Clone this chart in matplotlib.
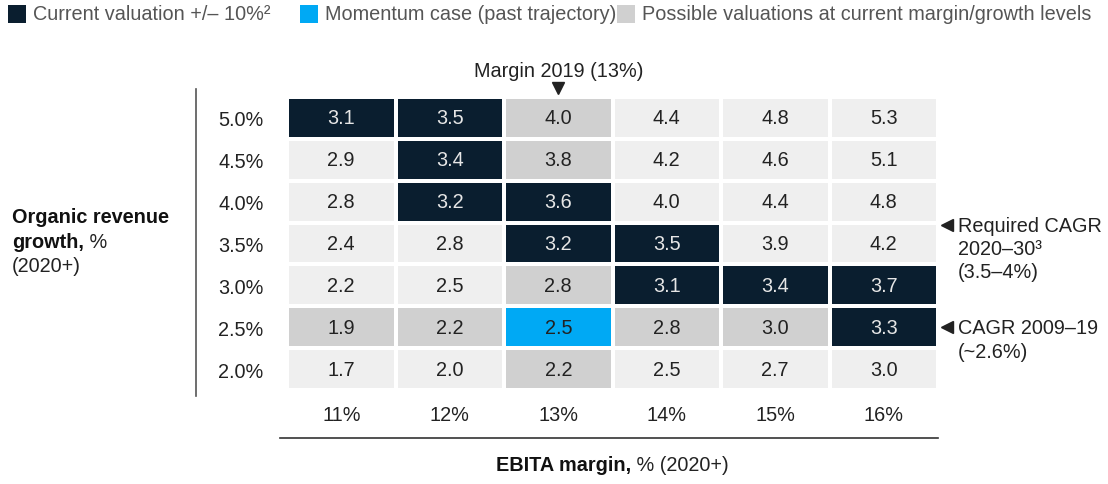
import numpy as np
from matplotlib import pyplot as plt
from matplotlib.colors import ListedColormap, BoundaryNorm

plt.rcParams["font.family"] = ["Liberation Sans", "DejaVu Sans"]

# data
margins = ["11%", "12%", "13%", "14%", "15%", "16%"]
growth = ["2.0%", "2.5%", "3.0%", "3.5%", "4.0%", "4.5%", "5.0%"]   # bottom -> top
values = [
    [1.7, 2.0, 2.2, 2.5, 2.7, 3.0],
    [1.9, 2.2, 2.5, 2.8, 3.0, 3.3],
    [2.2, 2.5, 2.8, 3.1, 3.4, 3.7],
    [2.4, 2.8, 3.2, 3.5, 3.9, 4.2],
    [2.8, 3.2, 3.6, 4.0, 4.4, 4.8],
    [2.9, 3.4, 3.8, 4.2, 4.6, 5.1],
    [3.1, 3.5, 4.0, 4.4, 4.8, 5.3],
]
# 0 = other, 1 = possible at current levels, 2 = current valuation +/-10%, 3 = momentum
cell_kind = [
    [0, 0, 1, 0, 0, 0],
    [1, 1, 3, 1, 1, 2],
    [0, 0, 1, 2, 2, 2],
    [0, 0, 2, 2, 0, 0],
    [0, 2, 2, 0, 0, 0],
    [0, 2, 1, 0, 0, 0],
    [2, 2, 1, 0, 0, 0],
]
legend_labels = ["Current valuation +/\u2013 10%\u00b2", "Momentum case (past trajectory)",
                 "Possible valuations at current margin/growth levels"]

# colours
LIGHT = "#efefef"
GRAY = "#d0d0d0"
NAVY = "#0a1e2f"
BLUE = "#00a9f4"
TXT = "#222222"
FS = 14.3

W, H = 1108, 485
fig = plt.figure(figsize=(W / 100, H / 100), dpi=100)

def fx(px):
    return px / W

def fy(py):
    return 1 - py / H

# heatmap axes
ax = fig.add_axes([fx(287), fy(391), fx(938) - fx(287), fy(98) - fy(391)])
cmap = ListedColormap([LIGHT, GRAY, NAVY, BLUE])
norm = BoundaryNorm([-0.5, 0.5, 1.5, 2.5, 3.5], cmap.N)
kind = np.array(cell_kind)
vals = np.array(values)
ax.pcolormesh(np.arange(len(margins) + 1) - 0.5, np.arange(len(growth) + 1) - 0.5,
              kind, cmap=cmap, norm=norm, edgecolors="white", linewidth=1.6)
ax.set_xlim(-0.5, len(margins) - 0.5)
ax.set_ylim(-0.5, len(growth) - 0.5)
for sp in ax.spines.values():
    sp.set_visible(False)

for i in range(len(growth)):
    for j in range(len(margins)):
        c = "#e6e6e6" if kind[i, j] == 2 else TXT
        ax.text(j, i, f"{vals[i, j]:.1f}", ha="center", va="center", fontsize=FS, color=c)

ax.set_xticks(range(len(margins)), margins)
ax.set_yticks(range(len(growth)), growth)
ax.tick_params(length=0, labelsize=FS, colors=TXT)
ax.tick_params(axis="y", pad=17)
ax.tick_params(axis="x", pad=11)

# margin 2019 marker
ax.text(2, 6.5 + (98 - 71) / 41.9, "Margin 2019 (13%)", ha="center", va="center",
        fontsize=FS, color=TXT)
ax.plot([2], [6.5 + (98 - 89) / 41.9], marker="v", ms=9, color="#222222", clip_on=False)

# right annotations
fig.add_artist(plt.Line2D([fx(947)], [fy(226)], marker="<", ms=9, color="#222222"))
fig.add_artist(plt.Line2D([fx(947)], [fy(328)], marker="<", ms=9, color="#222222"))
fig.text(fx(958), fy(226), "Required CAGR", fontsize=FS, color=TXT, va="center")
fig.text(fx(958), fy(250), "2020\u201330\u00b3", fontsize=FS, color=TXT, va="center")
fig.text(fx(958), fy(273), "(3.5\u20134%)", fontsize=FS, color=TXT, va="center")
fig.text(fx(958), fy(328), "CAGR 2009\u201319", fontsize=FS, color=TXT, va="center")
fig.text(fx(958), fy(353), "(~2.6%)", fontsize=FS, color=TXT, va="center")

# axis lines
fig.add_artist(plt.Line2D([fx(196), fx(196)], [fy(90), fy(397)], color="#555555", lw=1.2))
fig.add_artist(plt.Line2D([fx(280), fx(938)], [fy(439), fy(439)], color="#333333", lw=1.2))

# axis titles with mixed weights
renderer = fig.canvas.get_renderer()

def mixed(x, y, bold, normal, ha="left"):
    t1 = fig.text(fx(x), fy(y), bold, fontsize=FS, fontweight="bold", color="#111111", va="center")
    w1 = t1.get_window_extent(renderer).width
    t2 = fig.text(fx(x) + w1 / W, fy(y), normal, fontsize=FS, color=TXT, va="center")
    if ha == "center":
        w2 = t2.get_window_extent(renderer).width
        shift = (w1 + w2) / 2 / W
        t1.set_x(fx(x) - shift)
        t2.set_x(fx(x) - shift + w1 / W)

fig.text(fx(12), fy(218), "Organic revenue", fontsize=FS, fontweight="bold", color="#111111", va="center")
mixed(12, 243, "growth,", " %")
fig.text(fx(12), fy(267), "(2020+)", fontsize=FS, color=TXT, va="center")
mixed(612, 466, "EBITA margin,", " % (2020+)", ha="center")

# legend
leg_x = [8, 300, 617]
leg_colors = [NAVY, BLUE, GRAY]
for x0, col, lab in zip(leg_x, leg_colors, legend_labels):
    fig.add_artist(plt.Rectangle((fx(x0), fy(24)), fx(18), 18 / H, color=col, lw=0))
    fig.text(fx(x0 + 25), fy(14), lab, fontsize=FS, color="#555555", va="center")

fig.savefig("out.png", dpi=100)
